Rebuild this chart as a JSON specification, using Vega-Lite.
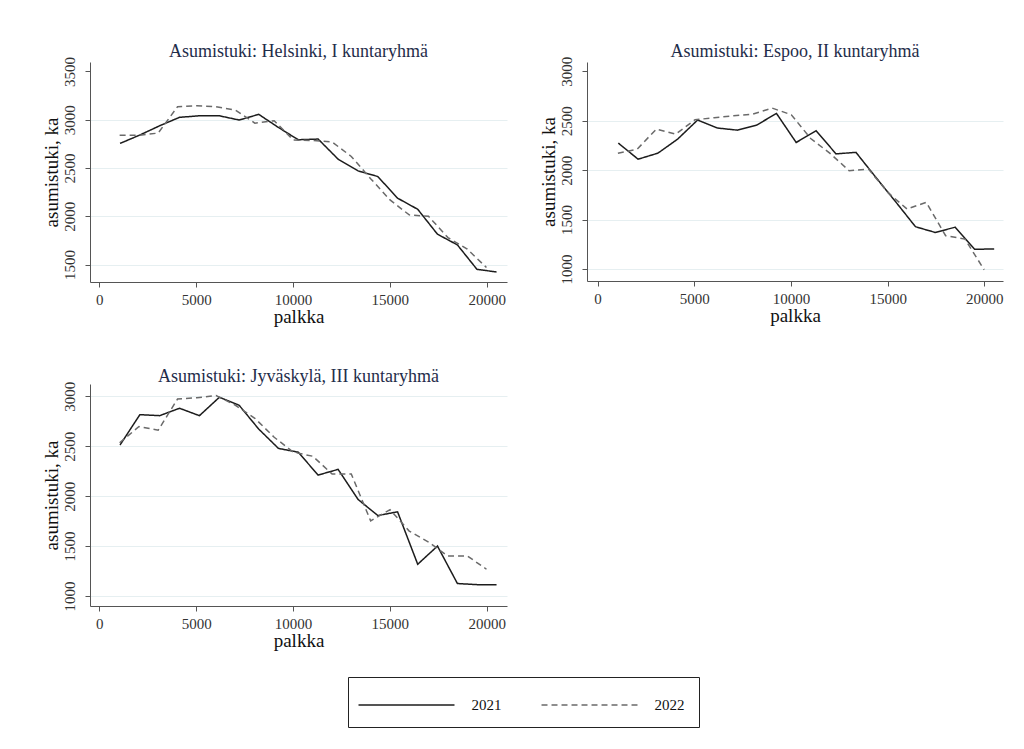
{
  "$schema": "https://vega.github.io/schema/vega-lite/v6.json",
  "padding": {"left": 42, "top": 43, "right": 10, "bottom": 10},
  "background": "white",
  "columns": 2,
  "spacing": {"row": 102, "column": 80},
  "bounds": "flush",
  "data": {"values": [
    {"kunta":"Helsinki","vuosi":"2021","palkka":1070,"tuki":2755},
    {"kunta":"Helsinki","vuosi":"2021","palkka":2095,"tuki":2842},
    {"kunta":"Helsinki","vuosi":"2021","palkka":3120,"tuki":2938},
    {"kunta":"Helsinki","vuosi":"2021","palkka":4140,"tuki":3025},
    {"kunta":"Helsinki","vuosi":"2021","palkka":5170,"tuki":3041},
    {"kunta":"Helsinki","vuosi":"2021","palkka":6200,"tuki":3041},
    {"kunta":"Helsinki","vuosi":"2021","palkka":7220,"tuki":2997},
    {"kunta":"Helsinki","vuosi":"2021","palkka":8230,"tuki":3056},
    {"kunta":"Helsinki","vuosi":"2021","palkka":9250,"tuki":2920},
    {"kunta":"Helsinki","vuosi":"2021","palkka":10270,"tuki":2793},
    {"kunta":"Helsinki","vuosi":"2021","palkka":11300,"tuki":2800},
    {"kunta":"Helsinki","vuosi":"2021","palkka":12330,"tuki":2592},
    {"kunta":"Helsinki","vuosi":"2021","palkka":13360,"tuki":2471},
    {"kunta":"Helsinki","vuosi":"2021","palkka":14380,"tuki":2412},
    {"kunta":"Helsinki","vuosi":"2021","palkka":15400,"tuki":2188},
    {"kunta":"Helsinki","vuosi":"2021","palkka":16440,"tuki":2073},
    {"kunta":"Helsinki","vuosi":"2021","palkka":17460,"tuki":1815},
    {"kunta":"Helsinki","vuosi":"2021","palkka":18490,"tuki":1704},
    {"kunta":"Helsinki","vuosi":"2021","palkka":19500,"tuki":1451},
    {"kunta":"Helsinki","vuosi":"2021","palkka":20510,"tuki":1424},
    {"kunta":"Helsinki","vuosi":"2022","palkka":1050,"tuki":2840},
    {"kunta":"Helsinki","vuosi":"2022","palkka":2050,"tuki":2840},
    {"kunta":"Helsinki","vuosi":"2022","palkka":3040,"tuki":2862},
    {"kunta":"Helsinki","vuosi":"2022","palkka":4040,"tuki":3135},
    {"kunta":"Helsinki","vuosi":"2022","palkka":5040,"tuki":3145},
    {"kunta":"Helsinki","vuosi":"2022","palkka":6030,"tuki":3135},
    {"kunta":"Helsinki","vuosi":"2022","palkka":7030,"tuki":3100},
    {"kunta":"Helsinki","vuosi":"2022","palkka":8030,"tuki":2965},
    {"kunta":"Helsinki","vuosi":"2022","palkka":9030,"tuki":2990},
    {"kunta":"Helsinki","vuosi":"2022","palkka":10020,"tuki":2790},
    {"kunta":"Helsinki","vuosi":"2022","palkka":11020,"tuki":2785},
    {"kunta":"Helsinki","vuosi":"2022","palkka":12020,"tuki":2770},
    {"kunta":"Helsinki","vuosi":"2022","palkka":13010,"tuki":2620},
    {"kunta":"Helsinki","vuosi":"2022","palkka":14010,"tuki":2390},
    {"kunta":"Helsinki","vuosi":"2022","palkka":15010,"tuki":2170},
    {"kunta":"Helsinki","vuosi":"2022","palkka":16000,"tuki":2015},
    {"kunta":"Helsinki","vuosi":"2022","palkka":17000,"tuki":2000},
    {"kunta":"Helsinki","vuosi":"2022","palkka":18000,"tuki":1780},
    {"kunta":"Helsinki","vuosi":"2022","palkka":19000,"tuki":1660},
    {"kunta":"Helsinki","vuosi":"2022","palkka":19990,"tuki":1470},
    {"kunta":"Espoo","vuosi":"2021","palkka":1070,"tuki":2274},
    {"kunta":"Espoo","vuosi":"2021","palkka":2095,"tuki":2111},
    {"kunta":"Espoo","vuosi":"2021","palkka":3120,"tuki":2172},
    {"kunta":"Espoo","vuosi":"2021","palkka":4140,"tuki":2314},
    {"kunta":"Espoo","vuosi":"2021","palkka":5170,"tuki":2507},
    {"kunta":"Espoo","vuosi":"2021","palkka":6200,"tuki":2426},
    {"kunta":"Espoo","vuosi":"2021","palkka":7220,"tuki":2405},
    {"kunta":"Espoo","vuosi":"2021","palkka":8230,"tuki":2456},
    {"kunta":"Espoo","vuosi":"2021","palkka":9250,"tuki":2574},
    {"kunta":"Espoo","vuosi":"2021","palkka":10270,"tuki":2280},
    {"kunta":"Espoo","vuosi":"2021","palkka":11300,"tuki":2399},
    {"kunta":"Espoo","vuosi":"2021","palkka":12330,"tuki":2165},
    {"kunta":"Espoo","vuosi":"2021","palkka":13360,"tuki":2180},
    {"kunta":"Espoo","vuosi":"2021","palkka":14380,"tuki":1930},
    {"kunta":"Espoo","vuosi":"2021","palkka":15400,"tuki":1684},
    {"kunta":"Espoo","vuosi":"2021","palkka":16440,"tuki":1428},
    {"kunta":"Espoo","vuosi":"2021","palkka":17460,"tuki":1370},
    {"kunta":"Espoo","vuosi":"2021","palkka":18490,"tuki":1423},
    {"kunta":"Espoo","vuosi":"2021","palkka":19500,"tuki":1200},
    {"kunta":"Espoo","vuosi":"2021","palkka":20510,"tuki":1203},
    {"kunta":"Espoo","vuosi":"2022","palkka":1050,"tuki":2170},
    {"kunta":"Espoo","vuosi":"2022","palkka":2050,"tuki":2213},
    {"kunta":"Espoo","vuosi":"2022","palkka":3040,"tuki":2416},
    {"kunta":"Espoo","vuosi":"2022","palkka":4040,"tuki":2365},
    {"kunta":"Espoo","vuosi":"2022","palkka":5040,"tuki":2510},
    {"kunta":"Espoo","vuosi":"2022","palkka":6030,"tuki":2530},
    {"kunta":"Espoo","vuosi":"2022","palkka":7030,"tuki":2550},
    {"kunta":"Espoo","vuosi":"2022","palkka":8030,"tuki":2567},
    {"kunta":"Espoo","vuosi":"2022","palkka":9030,"tuki":2628},
    {"kunta":"Espoo","vuosi":"2022","palkka":10020,"tuki":2560},
    {"kunta":"Espoo","vuosi":"2022","palkka":11020,"tuki":2320},
    {"kunta":"Espoo","vuosi":"2022","palkka":12020,"tuki":2170},
    {"kunta":"Espoo","vuosi":"2022","palkka":13010,"tuki":1994},
    {"kunta":"Espoo","vuosi":"2022","palkka":14010,"tuki":2011},
    {"kunta":"Espoo","vuosi":"2022","palkka":15010,"tuki":1775},
    {"kunta":"Espoo","vuosi":"2022","palkka":16000,"tuki":1607},
    {"kunta":"Espoo","vuosi":"2022","palkka":17000,"tuki":1674},
    {"kunta":"Espoo","vuosi":"2022","palkka":18000,"tuki":1337},
    {"kunta":"Espoo","vuosi":"2022","palkka":19000,"tuki":1303},
    {"kunta":"Espoo","vuosi":"2022","palkka":19990,"tuki":993},
    {"kunta":"Jyväskylä","vuosi":"2021","palkka":1070,"tuki":2512},
    {"kunta":"Jyväskylä","vuosi":"2021","palkka":2095,"tuki":2816},
    {"kunta":"Jyväskylä","vuosi":"2021","palkka":3120,"tuki":2806},
    {"kunta":"Jyväskylä","vuosi":"2021","palkka":4140,"tuki":2880},
    {"kunta":"Jyväskylä","vuosi":"2021","palkka":5170,"tuki":2806},
    {"kunta":"Jyväskylä","vuosi":"2021","palkka":6200,"tuki":2990},
    {"kunta":"Jyväskylä","vuosi":"2021","palkka":7220,"tuki":2910},
    {"kunta":"Jyväskylä","vuosi":"2021","palkka":8230,"tuki":2672},
    {"kunta":"Jyväskylä","vuosi":"2021","palkka":9250,"tuki":2478},
    {"kunta":"Jyväskylä","vuosi":"2021","palkka":10270,"tuki":2440},
    {"kunta":"Jyväskylä","vuosi":"2021","palkka":11300,"tuki":2211},
    {"kunta":"Jyväskylä","vuosi":"2021","palkka":12330,"tuki":2268},
    {"kunta":"Jyväskylä","vuosi":"2021","palkka":13360,"tuki":1967},
    {"kunta":"Jyväskylä","vuosi":"2021","palkka":14380,"tuki":1806},
    {"kunta":"Jyväskylä","vuosi":"2021","palkka":15400,"tuki":1843},
    {"kunta":"Jyväskylä","vuosi":"2021","palkka":16440,"tuki":1318},
    {"kunta":"Jyväskylä","vuosi":"2021","palkka":17460,"tuki":1500},
    {"kunta":"Jyväskylä","vuosi":"2021","palkka":18490,"tuki":1125},
    {"kunta":"Jyväskylä","vuosi":"2021","palkka":19500,"tuki":1114},
    {"kunta":"Jyväskylä","vuosi":"2021","palkka":20510,"tuki":1112},
    {"kunta":"Jyväskylä","vuosi":"2022","palkka":1050,"tuki":2535},
    {"kunta":"Jyväskylä","vuosi":"2022","palkka":2050,"tuki":2697},
    {"kunta":"Jyväskylä","vuosi":"2022","palkka":3040,"tuki":2660},
    {"kunta":"Jyväskylä","vuosi":"2022","palkka":4040,"tuki":2973},
    {"kunta":"Jyväskylä","vuosi":"2022","palkka":5040,"tuki":2985},
    {"kunta":"Jyväskylä","vuosi":"2022","palkka":6030,"tuki":3007},
    {"kunta":"Jyväskylä","vuosi":"2022","palkka":7030,"tuki":2910},
    {"kunta":"Jyväskylä","vuosi":"2022","palkka":8030,"tuki":2780},
    {"kunta":"Jyväskylä","vuosi":"2022","palkka":9030,"tuki":2590},
    {"kunta":"Jyväskylä","vuosi":"2022","palkka":10020,"tuki":2440},
    {"kunta":"Jyväskylä","vuosi":"2022","palkka":11020,"tuki":2400},
    {"kunta":"Jyväskylä","vuosi":"2022","palkka":12020,"tuki":2222},
    {"kunta":"Jyväskylä","vuosi":"2022","palkka":13010,"tuki":2222},
    {"kunta":"Jyväskylä","vuosi":"2022","palkka":14010,"tuki":1753},
    {"kunta":"Jyväskylä","vuosi":"2022","palkka":15010,"tuki":1865},
    {"kunta":"Jyväskylä","vuosi":"2022","palkka":16000,"tuki":1650},
    {"kunta":"Jyväskylä","vuosi":"2022","palkka":17000,"tuki":1540},
    {"kunta":"Jyväskylä","vuosi":"2022","palkka":18000,"tuki":1400},
    {"kunta":"Jyväskylä","vuosi":"2022","palkka":19000,"tuki":1402},
    {"kunta":"Jyväskylä","vuosi":"2022","palkka":19990,"tuki":1268}
  ]},
  "concat": [
    {
      "title": "Asumistuki: Helsinki, I kuntaryhmä",
      "width": 417, "height": 220,
      "transform": [{"filter": "datum.kunta === 'Helsinki'"}],
      "mark": {"type": "line", "strokeWidth": 1.5},
      "encoding": {
        "x": {"field": "palkka", "type": "quantitative", "scale": {"domain": [-480, 21050], "nice": false, "zero": false}, "axis": {"values": [0, 5000, 10000, 15000, 20000], "format": "d", "title": "palkka"}},
        "y": {"field": "tuki", "type": "quantitative", "scale": {"domain": [1320, 3598], "nice": false, "zero": false}, "axis": {"values": [1500, 2000, 2500, 3000, 3500], "format": "d", "title": "asumistuki, ka", "gridOpacity": {"condition": {"test": "datum.value >= 3500", "value": 0}, "value": 1}}},
        "color": {"field": "vuosi", "type": "nominal", "scale": {"domain": ["2021", "2022"], "range": ["#1c1c1c", "#6a6a6a"]}, "legend": {"title": null}},
        "strokeDash": {"field": "vuosi", "type": "nominal", "scale": {"domain": ["2021", "2022"], "range": [[1, 0], [6, 4]]}, "legend": {"title": null}}
      }
    },
    {
      "title": "Asumistuki: Espoo, II kuntaryhmä",
      "width": 416, "height": 219,
      "transform": [{"filter": "datum.kunta === 'Espoo'"}],
      "mark": {"type": "line", "strokeWidth": 1.5},
      "encoding": {
        "x": {"field": "palkka", "type": "quantitative", "scale": {"domain": [-548, 20966], "nice": false, "zero": false}, "axis": {"values": [0, 5000, 10000, 15000, 20000], "format": "d", "title": "palkka"}},
        "y": {"field": "tuki", "type": "quantitative", "scale": {"domain": [879, 3094], "nice": false, "zero": false}, "axis": {"values": [1000, 1500, 2000, 2500, 3000], "format": "d", "title": "asumistuki, ka", "gridOpacity": {"condition": {"test": "datum.value >= 3000", "value": 0}, "value": 1}}},
        "color": {"field": "vuosi", "type": "nominal", "scale": {"domain": ["2021", "2022"], "range": ["#1c1c1c", "#6a6a6a"]}, "legend": {"title": null}},
        "strokeDash": {"field": "vuosi", "type": "nominal", "scale": {"domain": ["2021", "2022"], "range": [[1, 0], [6, 4]]}, "legend": {"title": null}}
      }
    },
    {
      "title": "Asumistuki: Jyväskylä, III kuntaryhmä",
      "width": 417, "height": 222,
      "transform": [{"filter": "datum.kunta === 'Jyväskylä'"}],
      "mark": {"type": "line", "strokeWidth": 1.5},
      "encoding": {
        "x": {"field": "palkka", "type": "quantitative", "scale": {"domain": [-480, 21050], "nice": false, "zero": false}, "axis": {"values": [0, 5000, 10000, 15000, 20000], "format": "d", "title": "palkka"}},
        "y": {"field": "tuki", "type": "quantitative", "scale": {"domain": [900, 3123], "nice": false, "zero": false}, "axis": {"values": [1000, 1500, 2000, 2500, 3000], "format": "d", "title": "asumistuki, ka"}},
        "color": {"field": "vuosi", "type": "nominal", "scale": {"domain": ["2021", "2022"], "range": ["#1c1c1c", "#6a6a6a"]}, "legend": {"title": null}},
        "strokeDash": {"field": "vuosi", "type": "nominal", "scale": {"domain": ["2021", "2022"], "range": [[1, 0], [6, 4]]}, "legend": {"title": null}}
      }
    }
  ],
  "config": {
    "font": "Liberation Serif",
    "view": {"stroke": null},
    "axis": {
      "domainColor": "#555555", "tickColor": "#555555", "labelColor": "#333333", "titleColor": "#111111",
      "labelFont": "Liberation Serif", "titleFont": "Liberation Serif",
      "labelFontSize": 15, "titleFontSize": 19, "titleFontWeight": "normal",
      "tickSize": 5, "gridColor": "#e6eff1", "gridWidth": 1
    },
    "axisX": {"grid": false, "labelPadding": 5, "titlePadding": 0},
    "axisY": {"grid": true, "labelAngle": -90, "labelAlign": "center", "labelBaseline": "bottom", "labelPadding": 7.5, "titlePadding": 1},
    "title": {"font": "Liberation Serif", "fontSize": 18, "fontWeight": "normal", "color": "#1f2d4a", "offset": -5, "anchor": "middle"},
    "legend": {
      "orient": "none", "legendX": 258, "legendY": 615,
      "direction": "horizontal", "columns": 2,
      "strokeColor": "#222222", "padding": 14,
      "symbolType": "M-3.692,0H3.692", "symbolSize": 676, "symbolStrokeWidth": 1.5,
      "symbolOffset": 30.5, "labelOffset": 51,
      "labelFont": "Liberation Serif", "labelFontSize": 15, "labelColor": "#111111",
      "columnPadding": 36
    }
  }
}
